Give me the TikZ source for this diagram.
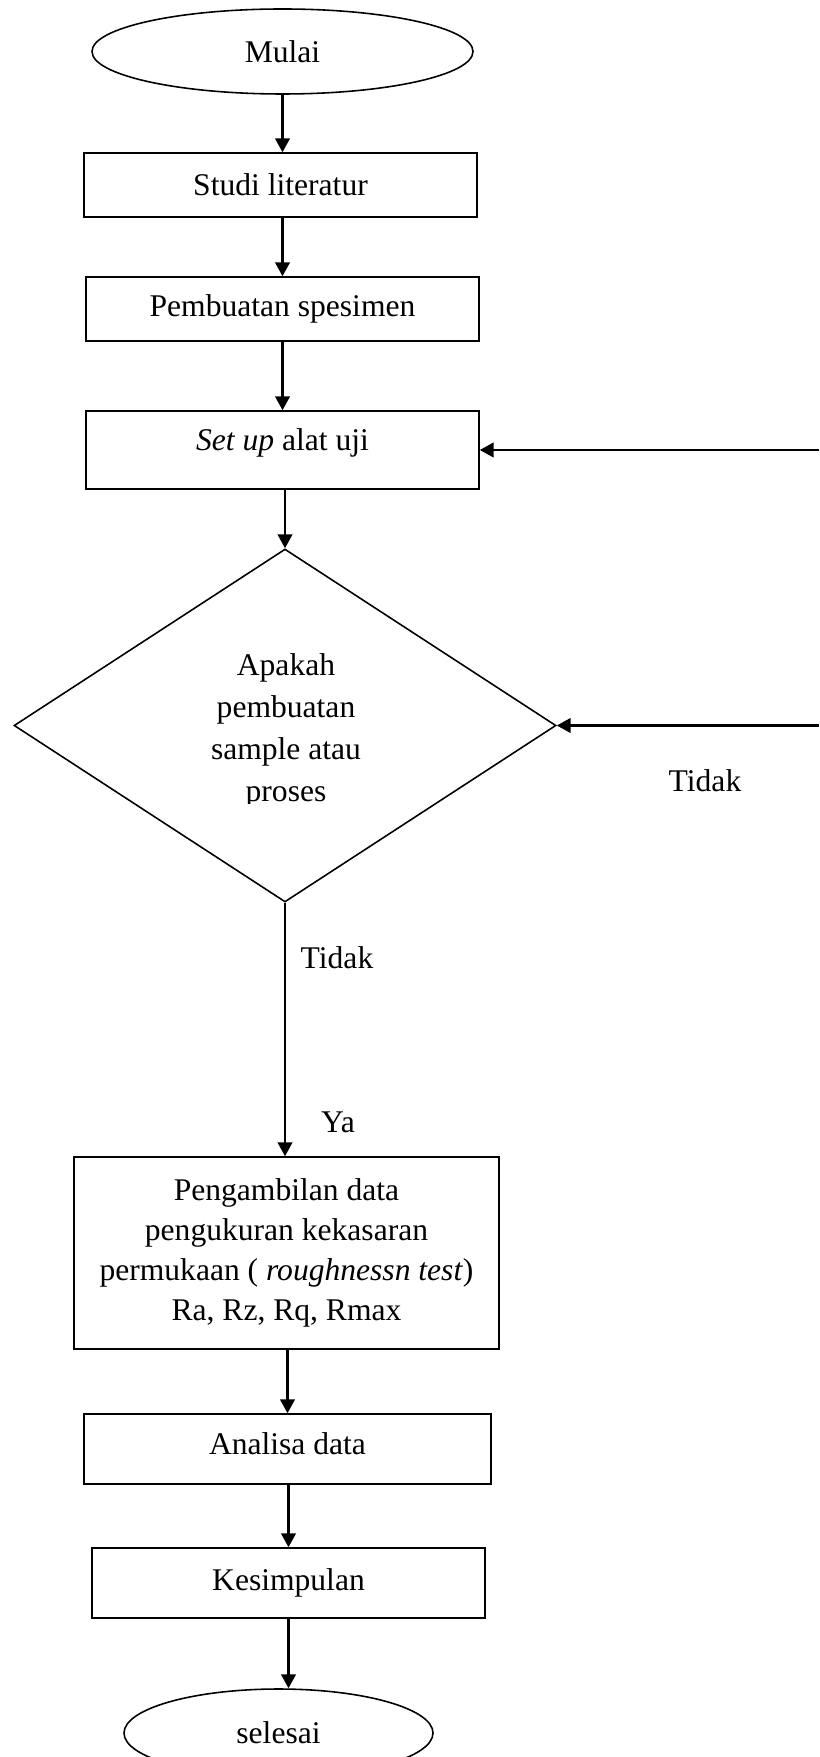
\documentclass[tikz,border=0pt]{standalone}
\usepackage{fontspec}
\setmainfont{Liberation Serif}
\usetikzlibrary{shapes.geometric,arrows.meta}
\newcommand{\upx}{0.38pt}

\begin{document}
\begin{tikzpicture}[x=0.38pt,y=0.38pt,yscale=-1,xscale=1,
    font={\fontsize{12}{15.2}\selectfont},
    prosesbox/.style={draw,line width=0.6pt,rectangle,inner sep=0pt,align=center},
    terminal/.style={draw,line width=0.6pt,ellipse,inner sep=0pt},
    decision/.style={draw,line width=0.6pt,diamond,inner sep=0pt},
    alur/.style={line width=0.8pt,-{Triangle[length=5.3pt,width=5.6pt]}}]
        \useasboundingbox (0,0) rectangle (819,1757);

        %Shape: Ellipse [id:mulai]
        \node[terminal,minimum width=381*\upx,minimum height=85*\upx] (mulai) at (282.5,51.5) {Mulai};
        %Shape: Rectangle [id:studi]
        \node[prosesbox,minimum width=393*\upx,minimum height=64*\upx] (studi) at (280.5,185) {Studi literatur};
        %Shape: Rectangle [id:buat]
        \node[prosesbox,minimum width=393*\upx,minimum height=64*\upx] (buat) at (282.5,309) {Pembuatan spesimen};
        %Shape: Rectangle [id:setup]
        \node[prosesbox,minimum width=393*\upx,minimum height=78*\upx,text depth=8pt] (setup) at (282.5,450) {\textit{Set up} alat uji};
        %Shape: Diamond [id:cek]
        \node[decision,minimum width=542*\upx,minimum height=353*\upx] (cek) at (285,725.5) {};
        %Shape: Rectangle [id:ambil]
        \node[prosesbox,minimum width=425*\upx,minimum height=192*\upx] (ambil) at (286.5,1253) {Pengambilan data\\pengukuran kekasaran\\permukaan ( \textit{roughnessn test})\\Ra, Rz, Rq, Rmax};
        %Shape: Rectangle [id:analisa]
        \node[prosesbox,minimum width=407*\upx,minimum height=70*\upx,text depth=4pt] (analisa) at (287.5,1449) {Analisa data};
        %Shape: Rectangle [id:simpul]
        \node[prosesbox,minimum width=393*\upx,minimum height=70*\upx] (simpul) at (288.5,1583) {Kesimpulan};
        %Shape: Ellipse [id:selesai]
        \node[terminal,minimum width=309*\upx,minimum height=88*\upx] (selesai) at (278.5,1733) {selesai};

        % Text Node (clipped like the text box of the diamond)
        \begin{scope}
          \clip (14,549) rectangle (556,803);
          \node[align=center,inner sep=0pt,font={\fontsize{12}{16}\selectfont}] (cektxt) at (286,731) {Apakah\\pembuatan\\sample atau\\proses};
        \end{scope}

        %Straight Lines [id:alur]
        \draw[alur] (mulai.south) -- (mulai.south |- studi.north);
        \draw[alur] (buat.north |- studi.south) -- (buat.north);
        \draw[alur] (buat.south) -- (buat.south |- setup.north);
        \draw[alur] (cek.north |- setup.south) -- (cek.north);
        \draw[alur] (cek.south) -- (cek.south |- ambil.north);
        \draw[alur] (analisa.north |- ambil.south) -- (analisa.north);
        \draw[alur] (simpul.north |- analisa.south) -- (simpul.north);
        \draw[alur] (simpul.south) -- (simpul.south |- selesai.north);

        %Straight Lines [id:balik]
        \coordinate (kanan1) at (819,450);
        \coordinate (kanan2) at (819,725.5);
        \draw[alur] (kanan1) -- (setup.east);
        \draw[alur] (kanan2) -- (cek.east);

        % Text Node
        \node[inner sep=0pt] (tidak1) at (337,958) {Tidak};
        % Text Node
        \node[inner sep=0pt] (ya) at (338,1122) {Ya};
        % Text Node
        \node[inner sep=0pt] (tidak2) at (705,781) {Tidak};

\end{tikzpicture}
\end{document}
